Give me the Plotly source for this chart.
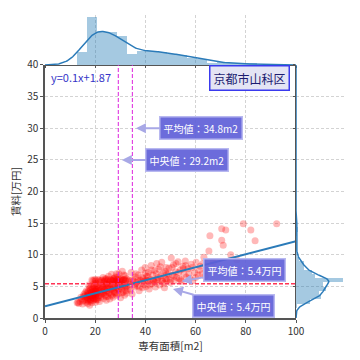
import numpy as np
import plotly.graph_objects as go

# ---------------- data ----------------
AREA = [
    12.8, 13.5, 14.0, 14.6, 15.0, 15.3, 15.8, 16.0, 16.2, 16.4, 15.5,
    16.8, 16.9, 17.0, 17.1, 17.2, 17.3, 17.5, 17.6, 17.7, 17.8,
    17.9, 18.0, 18.1, 18.2, 18.3, 18.4, 18.5, 18.6, 18.7, 18.8,
    18.9, 19.0, 19.1, 19.2, 19.3, 19.4, 19.5, 19.6, 19.7, 19.8,
    19.9, 20.0, 20.0, 20.1, 20.2, 20.3, 20.3, 20.4, 20.5, 20.5,
    20.7, 20.8, 21.0, 21.1, 21.3, 21.4, 21.6, 21.7, 21.9, 22.0,
    22.2, 22.3, 22.5, 22.6, 22.8, 23.0, 23.1, 23.3, 23.4, 23.6,
    23.7, 23.9, 24.0, 24.1, 24.2, 24.4, 24.5, 24.5,
    24.7, 24.9, 25.0, 25.2, 25.3, 25.5, 25.6, 25.8, 25.9, 26.1,
    26.2, 26.4, 26.5, 26.7, 26.8, 27.0, 27.1, 27.3, 27.4, 27.6,
    27.7, 27.9, 28.0, 28.1, 28.2, 28.4, 28.5, 28.5,
    28.7, 28.9, 29.1, 29.2, 29.4, 29.6, 29.8, 30.0, 30.1, 30.3,
    30.5, 30.6, 30.8, 31.0, 31.2, 31.3, 31.5, 31.7, 31.9, 32.0,
    32.2, 32.3, 32.5, 32.5,
    33.0, 33.4, 33.8, 34.3, 34.7, 35.2, 35.6, 36.0, 36.4,
    36.8, 37.1, 37.5, 37.8, 38.2, 38.5, 38.9, 39.2, 39.6, 39.9, 40.2, 40.5,
    40.8, 41.2, 41.5, 41.9, 42.3, 42.6, 43.0, 43.3, 43.7, 44.0, 44.3, 44.5,
    44.9, 45.3, 45.7, 46.1, 46.5, 46.8, 47.2, 47.6, 47.9, 48.2, 48.5,
    49.0, 49.4, 49.9, 50.3, 50.8, 51.2, 51.6, 52.0, 52.4,
    53.0, 53.4, 53.9, 54.4, 54.9, 55.4, 55.9, 56.3,
    57.0, 57.6, 58.3, 58.9, 59.6, 60.2,
    61.0, 61.8, 62.5, 63.3, 64.0,
    65.3, 65.7, 67.0,
    70.4, 70.4, 71.0, 72.0,
    74.0, 76.4,
    79.0,
    82.0, 83.7,
    92.3,
    # second pass over the dense cloud
    13.2, 14.3, 15.1, 15.9, 16.5,
    16.7, 17.0, 17.3, 17.5, 17.8, 18.0, 18.2, 18.5, 18.7, 18.9,
    19.1, 19.3, 19.5, 19.6, 19.8, 20.0, 20.1, 20.3, 20.4, 20.5,
    20.9, 21.2, 21.5, 21.8, 22.1, 22.4, 22.7, 23.0, 23.2, 23.5, 23.8, 24.0, 24.3, 24.55,
    24.8, 25.1, 25.4, 25.7, 26.0, 26.3, 26.6, 26.9, 27.2, 27.5, 27.8, 28.0, 28.3, 28.5,
    28.8, 29.3, 29.7, 30.2, 30.7, 30.9, 31.4, 31.8, 32.1, 32.4, 29.0, 30.4,
    33.2, 34.0, 34.9, 35.8, 36.2,
    37.0, 37.7, 38.6, 39.4, 40.0, 40.4,
    41.0, 41.7, 42.4, 43.1, 43.9, 44.4,
    45.1, 45.9, 46.6, 47.4, 48.0, 48.4,
    49.2, 50.0, 50.6, 51.4, 52.2,
    53.2, 54.1, 55.1, 56.0,
    57.3, 58.6, 60.0,
    61.4, 62.9, 63.8,
]
RENT = [
    2.4, 2.3, 2.6, 3.0, 2.2, 3.4, 2.8, 4.0, 3.2, 2.5, 3.7,
    2.9, 3.6, 2.3, 4.2, 3.1, 3.8, 2.6, 4.6, 3.4, 2.0,
    3.9, 3.0, 4.4, 3.5, 2.7, 5.0, 3.3, 4.1, 2.4, 3.7,
    4.8, 3.2, 5.9, 3.9, 2.8, 4.3, 3.6, 5.4, 3.0, 4.0,
    4.6, 3.4, 5.8, 2.5, 4.2, 3.8, 6.0, 4.9, 3.1, 4.5,
    3.9, 5.1, 2.9, 4.4, 6.1, 3.5, 4.8, 2.6, 5.6, 4.0,
    3.3, 5.9, 4.6, 3.8, 5.2, 4.2, 6.4, 3.1, 5.0, 4.5,
    5.8, 3.6, 6.0, 4.1, 5.4, 2.8, 4.7, 6.2,
    4.3, 5.9, 3.4, 5.0, 6.6, 4.0, 5.7, 3.0, 4.7, 6.0,
    5.3, 3.7, 6.9, 4.4, 5.8, 4.9, 3.3, 6.2, 6.0, 4.2,
    5.9, 3.9, 6.5, 5.1, 4.6, 6.1, 3.6, 5.6,
    4.8, 6.0, 3.8, 5.4, 7.0, 4.4, 5.9, 5.0, 3.2, 6.2,
    4.6, 5.7, 7.4, 5.2, 4.1, 6.0, 6.1, 3.6, 6.7, 4.9,
    5.8, 4.3, 6.2, 5.0,
    4.6, 6.0, 5.3, 7.2, 3.8, 5.9, 4.9, 6.5, 5.6,
    5.1, 6.8, 4.3, 6.0, 5.9, 7.6, 4.8, 6.2, 5.8, 8.0, 5.0, 6.6,
    5.9, 7.2, 4.6, 6.1, 8.3, 5.4, 6.8, 5.8, 7.5, 4.9, 6.0, 8.6,
    6.0, 7.7, 5.2, 6.7, 8.8, 5.8, 7.1, 4.8, 6.2, 8.0, 6.9,
    6.1, 7.9, 5.6, 9.5, 6.8, 8.4, 5.9, 7.3, 6.4,
    8.9, 6.2, 7.6, 5.8, 8.2, 6.9, 9.0, 6.5,
    7.8, 6.3, 8.5, 5.9, 7.2, 8.8,
    6.8, 8.2, 7.0, 9.6, 7.5,
    10.6, 13.0, 8.8,
    14.1, 12.3, 11.5, 13.9,
    10.0, 9.2,
    14.9,
    13.9, 12.2,
    14.9,
    # second pass over the dense cloud
    2.5, 3.3, 2.7, 3.5, 4.3,
    3.3, 4.0, 2.8, 5.2, 3.6, 4.8, 2.9, 4.0, 6.0, 3.5,
    4.5, 3.1, 5.1, 3.8, 6.1, 4.3, 3.5, 5.5, 2.9, 4.1,
    4.6, 3.2, 5.9, 4.3, 5.0, 3.6, 6.0, 4.9, 3.9, 5.7, 4.4, 6.2, 3.4, 5.3,
    5.0, 6.1, 3.9, 5.4, 4.5, 6.0, 3.5, 5.9, 4.7, 6.3, 5.3, 4.0, 5.8, 7.0,
    5.6, 4.6, 6.1, 5.3, 4.0, 6.0, 6.8, 5.1, 6.0, 3.9, 6.5, 5.9,
    5.8, 4.4, 6.1, 5.2, 7.0,
    5.9, 4.9, 6.4, 5.3, 7.1, 6.0,
    6.6, 5.2, 7.6, 6.0, 5.6, 7.0,
    6.4, 8.1, 6.0, 5.5, 7.4, 6.1,
    7.0, 6.0, 8.0, 6.6, 8.6,
    7.2, 6.0, 7.8, 8.3,
    7.0, 8.0, 6.4,
    7.6, 8.6, 6.6,
]

AREA_LABEL = "専有面積[m2]"
RENT_LABEL = "賃料[万円]"
REGION = "京都市山科区"
MEAN_AREA = 34.8
MEDIAN_AREA = 29.2
MEAN_RENT = 5.4
MEDIAN_RENT = 5.4
SLOPE = 0.1025
INTERCEPT = 1.87
SLOPE_TXT = "0.1"
INTERCEPT_TXT = "1.87"

X_TICKS = [0, 20, 40, 60, 80, 100]
Y_TICKS = [0, 5, 10, 15, 20, 25, 30, 35, 40]
X_RANGE = [0, 100]
Y_RANGE = [0, 40]

X_BIN_START, X_BIN_SIZE, X_NBINS = 12.6, 4.0, 20
Y_BIN_START, Y_BIN_SIZE, Y_NBINS = 1.6, 0.67, 20

# ---------------- derived ----------------
xs = np.array(AREA)
ys = np.array(RENT)
x_edges = X_BIN_START + X_BIN_SIZE * np.arange(X_NBINS + 1)
y_edges = Y_BIN_START + Y_BIN_SIZE * np.arange(Y_NBINS + 1)
x_counts, _ = np.histogram(xs, bins=x_edges)
y_counts, _ = np.histogram(ys, bins=y_edges)


def kde(data, grid, binw):
    n = len(data)
    bw = data.std(ddof=1) * n ** (-1 / 5)
    d = (grid[:, None] - data[None, :]) / bw
    dens = np.exp(-0.5 * d ** 2).sum(axis=1) / (n * bw * np.sqrt(2 * np.pi))
    return dens * n * binw


gx = np.linspace(X_RANGE[0], X_RANGE[1], 300)
gy = np.linspace(Y_RANGE[0], Y_RANGE[1], 400)
kx = kde(xs, gx, X_BIN_SIZE)
ky = kde(ys, gy, Y_BIN_SIZE)

top_max = max(x_counts.max(), kx.max()) * 1.05
right_max = max(y_counts.max(), ky.max()) * 1.05

BLUE = "#2b7bb9"
HIST = "rgba(31,119,180,0.4)"
FONT = "Noto Sans CJK JP"

fig = go.Figure()

fig.add_trace(go.Scatter(
    x=xs, y=ys, mode="markers",
    marker=dict(color="rgba(255,0,0,0.28)", size=7, line=dict(width=0)),
    xaxis="x", yaxis="y", showlegend=False, hoverinfo="skip"))

lx = np.array(X_RANGE, dtype=float)
fig.add_trace(go.Scatter(
    x=lx, y=SLOPE * lx + INTERCEPT, mode="lines",
    line=dict(color=BLUE, width=2), xaxis="x", yaxis="y", showlegend=False))

fig.add_trace(go.Bar(
    x=(x_edges[:-1] + x_edges[1:]) / 2, y=x_counts, width=X_BIN_SIZE,
    marker=dict(color=HIST, line=dict(width=0)),
    xaxis="x2", yaxis="y2", showlegend=False))
fig.add_trace(go.Scatter(
    x=gx, y=kx, mode="lines", line=dict(color=BLUE, width=1.5),
    xaxis="x2", yaxis="y2", showlegend=False))

fig.add_trace(go.Bar(
    y=(y_edges[:-1] + y_edges[1:]) / 2, x=y_counts, width=Y_BIN_SIZE,
    orientation="h", marker=dict(color=HIST, line=dict(width=0)),
    xaxis="x3", yaxis="y3", showlegend=False))
fig.add_trace(go.Scatter(
    x=ky, y=gy, mode="lines", line=dict(color=BLUE, width=1.5),
    xaxis="x3", yaxis="y3", showlegend=False))

XD = [0, 0.8367]
YD = [0, 0.835]
grid = dict(showgrid=True, gridcolor="#d3d3d3", griddash="3px,2px", gridwidth=0.8, zeroline=False)
tickfont = dict(family=FONT, size=10, color="#333333")

fig.update_layout(
    width=360, height=360,
    # the page body adds an 8px offset, compensated here
    margin=dict(l=37, r=23, t=7, b=50),
    paper_bgcolor="white", plot_bgcolor="white",
    bargap=0,
    font=dict(family=FONT, size=10, color="#333333"),
    xaxis=dict(domain=XD, range=X_RANGE, tickvals=X_TICKS, **grid, automargin=False,
               showline=True, linecolor="#555555", linewidth=1.5,
               ticks="outside", ticklen=3, tickcolor="#555555",
               tickfont=tickfont, anchor="y",
               title=dict(text=AREA_LABEL, font=dict(family=FONT, size=10.5, color="#333333"), standoff=4)),
    yaxis=dict(domain=YD, range=Y_RANGE, tickvals=Y_TICKS, **grid, automargin=False,
               showline=True, linecolor="#555555", linewidth=1.5,
               ticks="outside", ticklen=3, tickcolor="#555555",
               tickfont=tickfont, anchor="x",
               title=dict(text=RENT_LABEL, font=dict(family=FONT, size=10.5, color="#333333"), standoff=6)),
    xaxis2=dict(domain=XD, range=X_RANGE, tickvals=X_TICKS, matches="x", anchor="y2", automargin=False,
                showticklabels=False, **grid, showline=True, linecolor="#555555", linewidth=1.2,
                ticks="outside", ticklen=2, tickcolor="#555555"),
    yaxis2=dict(domain=[YD[1], 1], range=[0, top_max], anchor="x2", automargin=False,
                showgrid=False, showticklabels=False, zeroline=False, showline=False),
    xaxis3=dict(domain=[XD[1], 1], range=[0, right_max], anchor="y3", automargin=False,
                showgrid=False, showticklabels=False, zeroline=False, showline=False),
    yaxis3=dict(domain=YD, range=Y_RANGE, tickvals=Y_TICKS, matches="y", anchor="x3", automargin=False,
                showticklabels=False, **grid, showline=True, linecolor="#555555", linewidth=1.2,
                ticks="outside", ticklen=2, tickcolor="#555555"),
)

for v in (MEDIAN_AREA, MEAN_AREA):
    fig.add_shape(type="line", xref="x", yref="y domain", x0=v, x1=v, y0=0, y1=1,
                  line=dict(color="#dd22dd", width=1, dash="4px,2px"))
fig.add_shape(type="line", xref="x domain", yref="y", x0=0, x1=1, y0=MEAN_RENT, y1=MEAN_RENT,
              line=dict(color="#ff3355", width=1.5, dash="4px,2px"))

box = dict(bgcolor="rgba(96,96,216,0.92)", bordercolor="#b8b8f0", borderwidth=1.5, borderpad=3,
           font=dict(family=FONT, size=10, color="white"),
           showarrow=True, arrowhead=2, arrowsize=1, arrowwidth=2, arrowcolor="#a8a8e6",
           axref="x", ayref="y", xref="x", yref="y")

fig.add_annotation(text=f"平均値：{MEAN_AREA}m2", x=MEAN_AREA + 0.6, y=30, ax=62.2, ay=30, standoff=2, **box)
fig.add_annotation(text=f"中央値：{MEDIAN_AREA}m2", x=MEDIAN_AREA + 0.6, y=25, ax=56.6, ay=25, standoff=2, **box)
fig.add_annotation(text=f"平均値：{MEAN_RENT}万円", x=54.5, y=MEAN_RENT + 0.4, ax=79.3, ay=7.6, **box)
fig.add_annotation(text=f"中央値：{MEDIAN_RENT}万円", x=51.0, y=MEDIAN_RENT - 0.8, ax=75.0, ay=1.9, **box)

fig.add_annotation(text=REGION, x=81.5, y=37.9, xref="x", yref="y", showarrow=False,
                   bgcolor="#e4e4f4", bordercolor="#3a3aee", borderwidth=1.5, borderpad=3,
                   font=dict(family=FONT, size=12, color="#1c1c70"))
fig.add_annotation(text=f"y={SLOPE_TXT}x+{INTERCEPT_TXT}", x=1.5, y=38.1, xref="x", yref="y",
                   xanchor="left", showarrow=False,
                   font=dict(family=FONT, size=11, color="#3535c8"))

fig.write_html("out.html")
